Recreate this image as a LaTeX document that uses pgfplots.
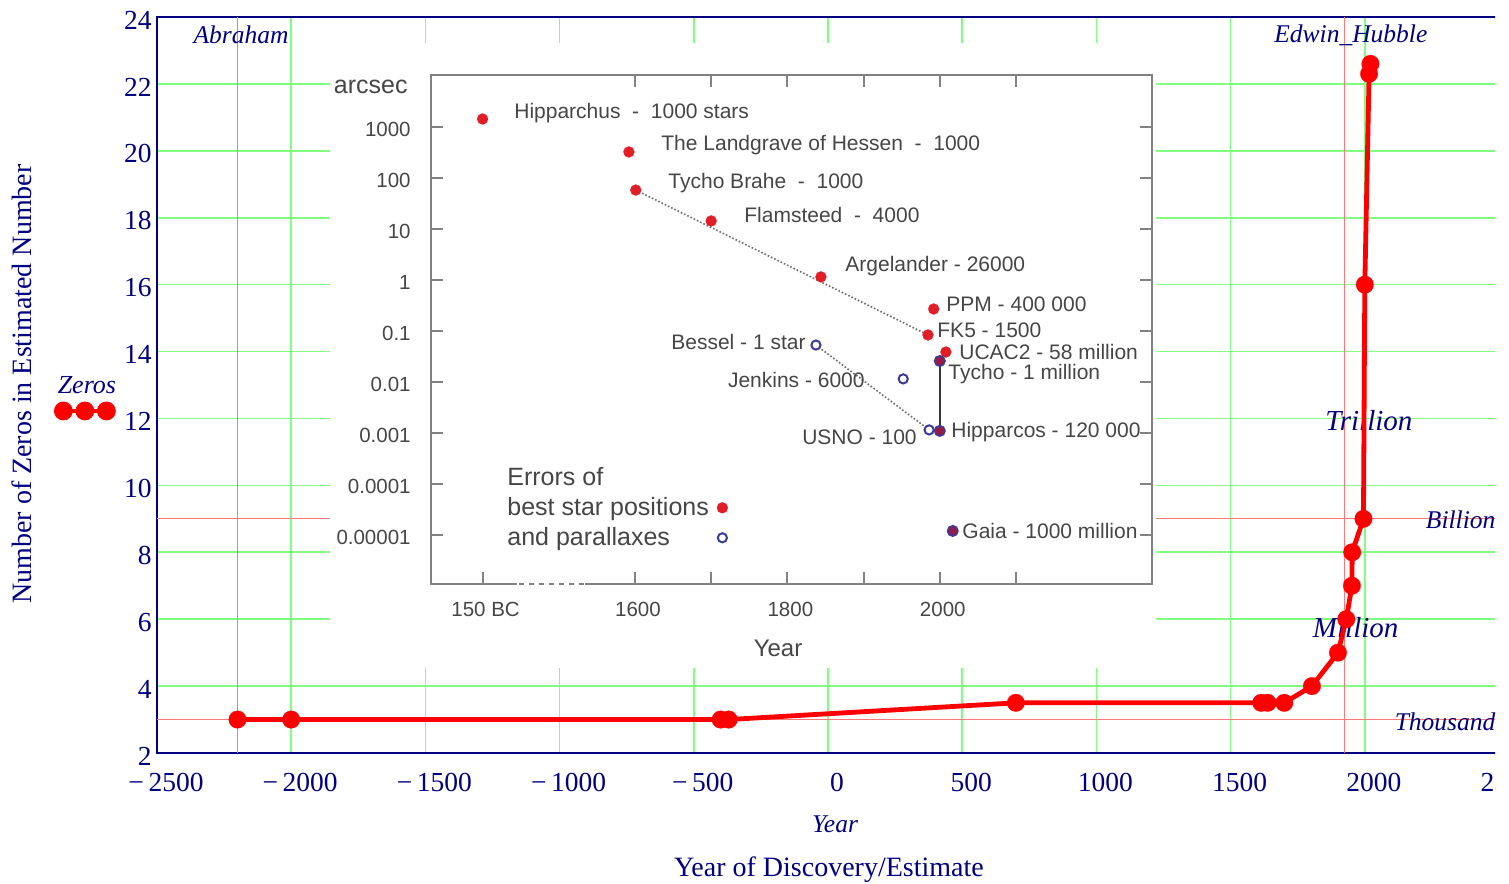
\documentclass[border=0pt]{standalone}
\usepackage{fontspec}
\setmainfont{Liberation Serif}
\newfontfamily\insetfont{Liberation Sans}
\usepackage{pgfplots}
\pgfplotsset{compat=1.18}
\definecolor{navy}{RGB}{0,0,128}
\definecolor{gridgreen}{RGB}{128,255,128}
\definecolor{reflred}{RGB}{255,120,120}
\definecolor{insetgray}{RGB}{70,70,70}
\definecolor{framegray}{RGB}{130,130,130}
\definecolor{dotgray}{RGB}{110,110,110}
\definecolor{linegray}{RGB}{55,55,55}
\definecolor{dotred}{RGB}{225,30,40}
\definecolor{parblue}{RGB}{60,60,150}
\definecolor{mixfill}{RGB}{150,25,70}
\tikzset{lbl/.style={inner sep=0pt, font=\insetfont\fontsize{10.5bp}{12bp}\selectfont, text=insetgray}}
\pgfplotsset{singlemark legend/.style={legend image code/.code={\draw[##1] plot coordinates {(1bp,1.3bp)};}}}
\begin{document}
\begin{tikzpicture}
\useasboundingbox (0,0) rectangle (754.5bp,442bp);
\begin{scope}
\clip (0,0) rectangle (747.6bp,442bp);
\begin{axis}[
  at={(78.5bp,65.5bp)}, anchor=south west,
  scale only axis, width=671bp, height=368bp,
  xmin=-2500, xmax=2500, ymin=2, ymax=24,
  xtick={-2500,-2000,...,2500},
  xticklabels={−\,2500,−\,2000,−\,1500,−\,1000,−\,500,0,500,1000,1500,2000,2500},
  ytick={2,4,...,24},
  grid=major,
  grid style={draw=gridgreen, line width=0.85bp},
  major tick length=0pt,
  axis line style={draw=navy, line width=1.1bp},
  tick label style={font=\fontsize{13.75bp}{16bp}\selectfont, text=navy},
  xticklabel style={inner sep=0pt, anchor=north, yshift=-9.75bp, xshift=4.5bp},
  yticklabel style={inner sep=0pt, anchor=east, xshift=-2.5bp, yshift=-1.5bp},
  /pgf/number format/assume math mode=true,
  xlabel={Year},
  xlabel style={at={(axis description cs:0.5052,-0.0965)}, anchor=center, font=\fontsize{12.75bp}{15bp}\selectfont\itshape, text=navy},
  ylabel={Number of Zeros in Estimated Number},
  ylabel style={at={(axis description cs:-0.1006,0.5014)}, anchor=center, font=\fontsize{14bp}{16bp}\selectfont, text=navy},
  clip mode=individual,
  legend style={at={(axis description cs:-0.0529,0.4647)}, anchor=center, draw=none, fill=none, inner sep=0pt, column sep=0pt, nodes={inner sep=0pt}},
]
\addlegendimage{legend image code/.code={
  \draw[red, line width=2.4bp] (-10.75bp,0pt) -- (10.75bp,0pt);
  \fill[red] (-10.75bp,0pt) circle (4.5bp) (0pt,0pt) circle (4.5bp) (10.75bp,0pt) circle (4.5bp);
  \node[text=navy, font=\fontsize{13bp}{15bp}\selectfont\itshape, inner sep=0pt] at (1bp,12bp) {Zeros};
  \path[draw=none, fill=none] (0pt,-20bp) -- (0pt,20bp);
}}
\addlegendentry{}
% reference lines
\addplot[forget plot, draw=reflred, line width=0.6bp] coordinates {(-2200,2) (-2200,24)};
\addplot[forget plot, draw=reflred, line width=0.6bp] coordinates {(1925,2) (1925,24)};
\addplot[forget plot, draw=reflred, line width=0.6bp] coordinates {(-2500,3) (2500,3)};
\addplot[forget plot, draw=reflred, line width=0.6bp] coordinates {(-2500,9) (2500,9)};
% labels
\node[font=\fontsize{12.75bp}{15bp}\selectfont\itshape, text=navy] at (axis cs:-2187,23.46) {Abraham};
\node[font=\fontsize{12.75bp}{15bp}\selectfont\itshape, text=navy] at (axis cs:1948,23.46) {Edwin\_Hubble};
\node[font=\fontsize{14.5bp}{17bp}\selectfont\itshape, text=navy] at (axis cs:2015,11.95) {Trillion};
\node[font=\fontsize{14.5bp}{17bp}\selectfont\itshape, text=navy] at (axis cs:1966,5.74) {Million};
\node[anchor=east, inner sep=0pt, font=\fontsize{12.75bp}{15bp}\selectfont\itshape, text=navy] at (axis cs:2488,8.96) {Billion};
\node[anchor=east, inner sep=0pt, font=\fontsize{12.75bp}{15bp}\selectfont\itshape, text=navy] at (axis cs:2488,2.93) {Thousand};
\node[font=\fontsize{14bp}{16bp}\selectfont, text=navy] at (axis description cs:0.5007,-0.159) {Year of Discovery/Estimate};
% data
\addplot[forget plot, draw=red, line width=2.4bp, mark=*, mark size=4.4bp, mark options={fill=red, draw=red, line width=0.1bp}] coordinates {
(-2200,3) (-2000,3) (-400,3) (-370,3) (700,3.5) (1614,3.5) (1638,3.5) (1700,3.5)
(1803,4) (1900,5) (1931,6) (1952,7) (1953,8) (1995,9) (2000,16) (2016,22.3) (2021,22.6)};
\end{axis}
\fill[white] (165bp,108bp) rectangle (578bp,420.5bp);
\begin{axis}[
  at={(215.5bp,150bp)}, anchor=south west,
  scale only axis, width=360.5bp, height=254.5bp,
  xmin=1332.3, xmax=2278.5, ymode=log, ymin=1.094e-6, ymax=10462,
  xtick={1600,1700,1800,1900,2000,2100}, xticklabels={1600,,1800,,2000,},
  extra x ticks={1400}, extra x tick labels={150 BC}, extra x tick style={xtick pos=left},
  ytick={1e-5,1e-4,1e-3,1e-2,1e-1,1,10,100,1000},
  yticklabels={0.00001,0.0001,0.001,0.01,0.1,1,10,100,1000},
  yminorticks=false,
  tick align=inside, major tick length=6bp,
  tick style={draw=framegray, line width=1bp},
  axis line style={draw=framegray, line width=1bp},
  tick label style={font=\insetfont\fontsize{10.25bp}{12bp}\selectfont, text=insetgray},
  xticklabel style={inner sep=0pt, anchor=north, yshift=-9bp, xshift=1.5bp},
  yticklabel style={inner sep=0pt, anchor=east, xshift=-10bp, yshift=-1bp},
  clip mode=individual,
  legend plot pos=right, legend cell align=left,
  legend style={at={(axis description cs:0.1054,0.2338)}, anchor=north west, draw=none, fill=none, inner sep=0pt, column sep=4bp, row sep=0pt, font=\insetfont\fontsize{12.5bp}{15bp}\selectfont, text=insetgray, nodes={inner sep=0pt, text height=10bp, text depth=5bp}},
]
\addplot[forget plot, draw=dotgray, line width=0.8bp, densely dotted] coordinates {(1601,58) (1984.5,0.0836)};
\addplot[forget plot, draw=dotgray, line width=0.8bp, densely dotted] coordinates {(1837.5,0.053) (1986,0.00115)};
\addplot[forget plot, draw=linegray, line width=1bp] coordinates {(2000,0.0258) (2000,0.0011)};
\addlegendimage{empty legend}
\addlegendentry{Errors of}
\addplot[only marks, mark=*, mark size=2.75bp, mark options={fill=dotred, draw=dotred, line width=0.1bp},
  singlemark legend] coordinates {
(1400,1435) (1592,324) (1601,58) (1700,14.4) (1844,1.15) (1992,0.27) (1984.5,0.0836) (2008,0.0387)};
\addlegendentry{best star positions}
\addplot[only marks, mark=*, mark size=2.3bp, mark options={fill=white, draw=parblue, line width=1bp},
  singlemark legend] coordinates {
(1837.5,0.053) (1952,0.0115) (1986,0.00115)};
\addlegendentry{and parallaxes}
\addplot[forget plot, only marks, mark=*, mark size=2.6bp, mark options={fill=mixfill, draw=parblue, line width=0.8bp}] coordinates {
(2000,0.0258) (2000,0.0011) (2017,1.2e-5)};
% broken axis marker
\draw[white, line width=2.5bp] (axis description cs:0.1193,0) -- (axis description cs:0.2136,0);
\draw[framegray, line width=1bp, dash pattern=on 2.5bp off 2.5bp] (axis description cs:0.1220,0) -- (axis description cs:0.2136,0);
% labels
\node[lbl, anchor=east, font=\insetfont\fontsize{12.5bp}{15bp}\selectfont] at (axis description cs:-0.0319,0.9764) {arcsec};
\node[lbl, font=\insetfont\fontsize{12bp}{14bp}\selectfont] at (axis description cs:0.4813,-0.1257) {Year};
\node[lbl, anchor=west] at (axis description cs:0.1151,0.9253) {Hipparchus\ \ -\ \ 1000 stars};
\node[lbl, anchor=west] at (axis description cs:0.3190,0.8625) {The Landgrave of Hessen\ \ -\ \ 1000};
\node[lbl, anchor=west] at (axis description cs:0.3287,0.7878) {Tycho Brahe\ \ -\ \ 1000};
\node[lbl, anchor=west] at (axis description cs:0.4341,0.7250) {Flamsteed\ \ -\ \ 4000};
\node[lbl, anchor=west] at (axis description cs:0.5742,0.6248) {Argelander - 26000};
\node[lbl, anchor=west] at (axis description cs:0.7143,0.5501) {PPM - 400 000};
\node[lbl, anchor=west] at (axis description cs:0.7018,0.4990) {FK5 - 1500};
\node[lbl, anchor=west] at (axis description cs:0.7323,0.4558) {UCAC2 - 58 million};
\node[lbl, anchor=west] at (axis description cs:0.7171,0.4115) {Tycho - 1 million};
\node[lbl, anchor=east] at (axis description cs:0.5201,0.4754) {Bessel - 1 star};
\node[lbl, anchor=east] at (axis description cs:0.6019,0.4008) {Jenkins - 6000};
\node[lbl, anchor=east] at (axis description cs:0.6741,0.2888) {USNO - 100};
\node[lbl, anchor=west] at (axis description cs:0.7212,0.2986) {Hipparcos - 120 000};
\node[lbl, anchor=west] at (axis description cs:0.7365,0.1041) {Gaia - 1000 million};
\end{axis}
\end{scope}
\end{tikzpicture}
\end{document}
